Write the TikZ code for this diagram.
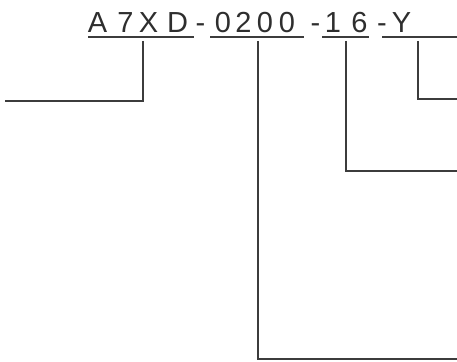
\documentclass[tikz,border=0pt]{standalone}
\usepackage{fontspec}
\setmainfont{Liberation Sans}
\definecolor{ink}{HTML}{2E2E2E}
\definecolor{lnc}{HTML}{3C3C3C}
\begin{document}
\begin{tikzpicture}[x=1pt,y=-1pt,
  ch/.style={inner sep=0pt, anchor=base, text=ink, font=\fontsize{29}{31}\selectfont},
  ln/.style={draw=lnc, line width=2pt}]
\useasboundingbox (0,0) rectangle (457,361);
% characters
\node[ch] (cA)  at (97.5,33) {A};
\node[ch] (c7)  at (125.5,33) {7};
\node[ch] (cX)  at (148.5,33) {X};
\node[ch] (cD)  at (177.5,33) {D};
\node[ch] (d1)  at (200.5,33) {-};
\node[ch] (n0a) at (223,33) {0};
\node[ch] (n2)  at (243.5,33) {2};
\node[ch] (n0b) at (265,33) {0};
\node[ch] (n0c) at (287,33) {0};
\node[ch] (d2)  at (315.5,33) {-};
\node[ch] (n1)  at (333,33) {1};
\node[ch] (n6)  at (359.5,33) {6};
\node[ch] (d3)  at (382,33) {-};
\node[ch] (cY)  at (401.5,33) {Y};
% underline coordinates
\coordinate (u1a) at (88,37.5);  \coordinate (u1b) at (194,37.5);
\coordinate (u2a) at (210,37.5); \coordinate (u2b) at (304,37.5);
\coordinate (u3a) at (322,37.5); \coordinate (u3b) at (369,37.5);
\coordinate (u4a) at (382,37.5); \coordinate (u4b) at (457,37.5);
\draw[ln] (u1a) -- (u1b);
\draw[ln] (u2a) -- (u2b);
\draw[ln] (u3a) -- (u3b);
\draw[ln] (u4a) -- (u4b);
% leader lines
\coordinate (t1) at (143,41);  \coordinate (e1) at (5,101);
\coordinate (t2) at (258,41);  \coordinate (e2) at (457,359);
\coordinate (t3) at (346,41);  \coordinate (e3) at (457,171);
\coordinate (t4) at (418,41);  \coordinate (e4) at (457,99);
\draw[ln] (t1) |- (e1);
\draw[ln] (t2) |- (e2);
\draw[ln] (t3) |- (e3);
\draw[ln] (t4) |- (e4);
\end{tikzpicture}
\end{document}
